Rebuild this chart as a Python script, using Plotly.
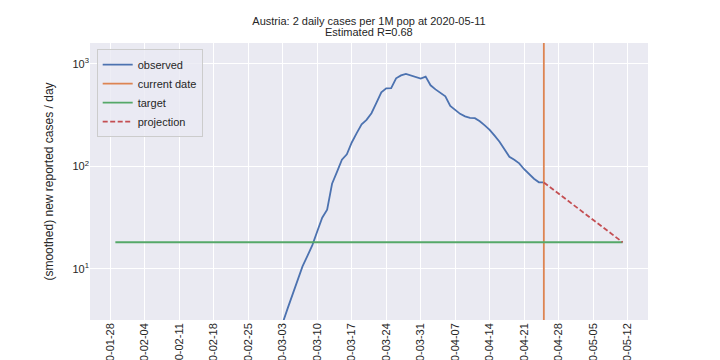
import pandas as pd
import plotly.graph_objects as go

# ---- data ----
country = "Austria"
series_start = "2020-01-29"
series_end = "2020-05-11"
observed_start = "2020-03-02"
observed_values = [2.0, 3.0, 4.15, 5.76, 7.89, 10.6, 13.4, 17.1, 23.3, 31.6,
                   37.8, 67.7, 88.5, 116, 131, 171, 211, 257, 284, 330,
                   416, 526, 576, 580, 721, 771, 798, 766, 745, 717,
                   750, 617, 563, 521, 482, 389, 352, 325, 307, 297,
                   295, 275, 251, 227, 199, 174, 147, 124, 116, 107,
                   93.7, 83.8, 75.7, 70.0, 69.7]
current_date = "2020-04-25"
target_value = 18.2
projection_dates = ["2020-04-25", "2020-05-11"]
projection_values = [69.7, 18.2]
estimated_R = 0.68
y_tick_values = [10, 100, 1000]
y_tick_labels = ["10<sup>1</sup>", "10<sup>2</sup>", "10<sup>3</sup>"]

observed_dates = pd.date_range(observed_start, periods=len(observed_values), freq="D")

BLUE = "#4C72B0"
ORANGE = "#DD8452"
GREEN = "#55A868"
RED = "#C44E52"
TXT = "#262626"
FONT = "Liberation Sans"

fig = go.Figure()
fig.add_trace(go.Scatter(x=observed_dates, y=observed_values, mode="lines",
                         name="observed", line=dict(color=BLUE, width=1.8)))
fig.add_trace(go.Scatter(x=[current_date, current_date], y=[0.01, 1e6], mode="lines",
                         name="current date", line=dict(color=ORANGE, width=1.8)))
fig.add_trace(go.Scatter(x=[series_start, series_end], y=[target_value, target_value],
                         mode="lines", name="target", line=dict(color=GREEN, width=1.8)))
fig.add_trace(go.Scatter(x=projection_dates, y=projection_values, mode="lines",
                         name="projection",
                         line=dict(color=RED, width=1.8, dash="5px,2.5px")))

# matplotlib-like 5% margins on the date span
t0 = pd.Timestamp(series_start)
t1 = pd.Timestamp(series_end)
pad = (t1 - t0) * 0.05
xr = [t0 - pad, t1 + pad]

fig.update_layout(
    width=720, height=360,
    margin=dict(l=90, r=72, t=43, b=40, autoexpand=False),
    paper_bgcolor="white",
    plot_bgcolor="#EAEAF2",
    font=dict(family=FONT, size=11, color=TXT),
    title=dict(text=f"{country}: 2 daily cases per 1M pop at {series_end}",
               x=0.5, xref="paper", xanchor="center",
               y=1 - 21 / 360, yref="container", yanchor="middle",
               font=dict(size=11, color=TXT, family=FONT)),
    annotations=[dict(text=f"Estimated R={estimated_R}", xref="paper", yref="paper",
                      x=0.5, y=1 + (43 - 32.5) / 277, xanchor="center", yanchor="middle",
                      showarrow=False, font=dict(size=11, color=TXT, family=FONT))],
    showlegend=True,
    legend=dict(x=0.012, y=0.978, xanchor="left", yanchor="top",
                bgcolor="rgba(234,234,242,0.8)", bordercolor="#CCCCCC", borderwidth=1,
                font=dict(size=11, color=TXT, family=FONT), tracegroupgap=0,
                itemwidth=30),
    xaxis=dict(type="date", range=xr, tick0="2020-01-28", dtick=7 * 86400000,
               tickformat="%Y-%m-%d", tickangle=-90, showgrid=True, automargin=False,
               gridcolor="white", gridwidth=1, zeroline=False, showline=False,
               ticks="", tickfont=dict(size=11, color=TXT)),
    yaxis=dict(type="log", range=[0.5022, 3.2026], tickvals=y_tick_values,
               ticktext=y_tick_labels, automargin=False,
               showgrid=True, gridcolor="white", gridwidth=1, zeroline=False,
               showline=False, ticks="", tickfont=dict(size=11, color=TXT),
               title=dict(text="(smoothed) new reported cases / day",
                          font=dict(size=12, color=TXT), standoff=16)),
)

fig.write_html("out.html", config={"displayModeBar": False},
               post_script="document.body.style.margin='0';")
